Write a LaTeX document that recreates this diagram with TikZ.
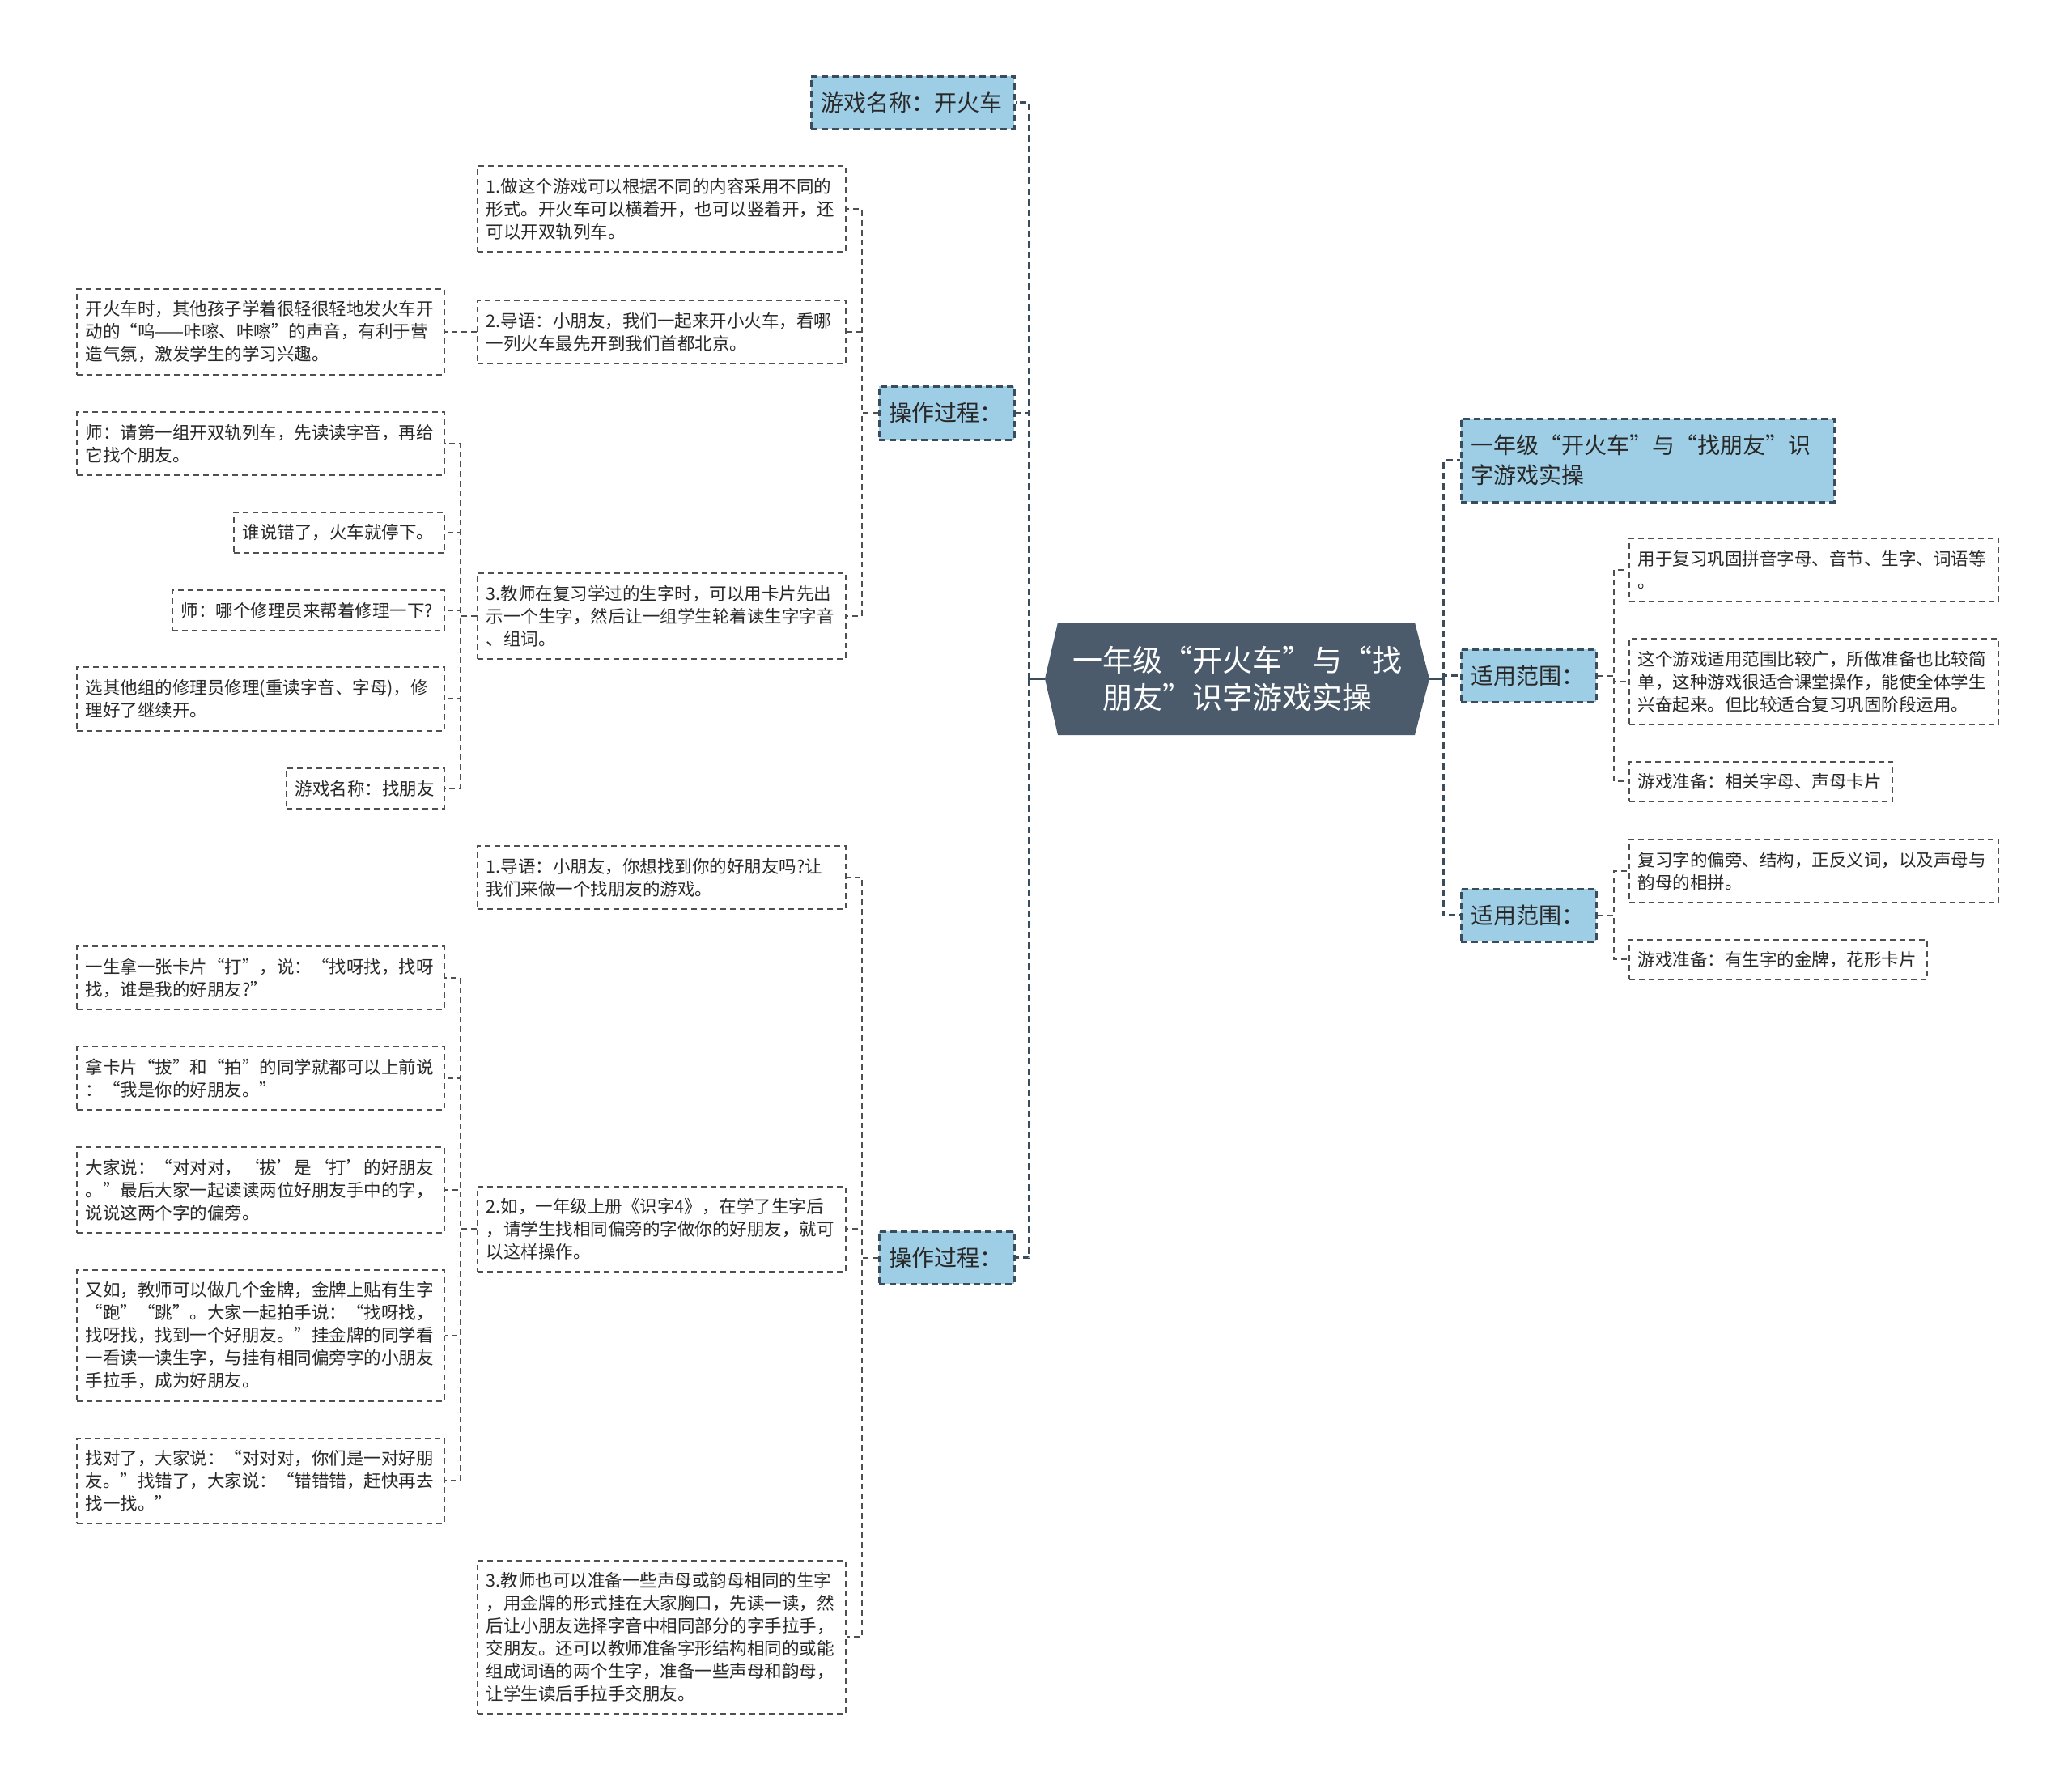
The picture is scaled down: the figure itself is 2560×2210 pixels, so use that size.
\documentclass[tikz,border=0pt]{standalone}
\usepackage{fontspec}
\setmainfont{Noto Sans CJK SC}
\definecolor{bluefill}{RGB}{158,206,229}
\definecolor{mainline}{RGB}{59,77,92}
\definecolor{leafline}{RGB}{80,80,80}
\definecolor{subline}{RGB}{80,80,80}
\definecolor{rootfill}{RGB}{75,91,107}
\definecolor{txt}{RGB}{40,40,40}
\tikzset{
  leaf/.style={draw=leafline, line width=1.9pt, dash pattern=on 7pt off 5pt, inner xsep=11pt, inner ysep=0pt, align=left, anchor=north west, text=txt, font=\fontsize{21.5}{28}\selectfont},
  bluebox/.style={fill=bluefill, draw=mainline, line width=2.6pt, dash pattern=on 8pt off 5pt, inner xsep=12.5pt, inner ysep=0pt, align=left, anchor=north west, text=txt, font=\fontsize{28}{37}\selectfont},
  mainconn/.style={draw=mainline, line width=3.2pt, dash pattern=on 8pt off 5pt},
  mainsolid/.style={draw=mainline, line width=3.2pt},
  subconn/.style={draw=subline, line width=2pt, dash pattern=on 7pt off 5pt},
}
\begin{document}
\begin{tikzpicture}[x=1pt,y=-1pt]
\useasboundingbox[fill=white] (0,0) rectangle (2560,2210);
% root
\fill[rootfill] (1291,838.5) -- (1307,769) -- (1748,769) -- (1766,838.5) -- (1748,908) -- (1307,908) -- cycle;
\node[minimum width=475pt, minimum height=139pt, inner sep=0pt, text=white, align=center, font=\fontsize{37}{46}\selectfont] (root) at (1528.5,838.5) {一年级“开火车”与“找\\朋友”识字游戏实操};
% left level 1
\node[bluebox, text width=226pt, minimum height=65pt] (g1) at (1001,93) {游戏名称：开火车};
\node[bluebox, text width=142pt, minimum height=66pt] (p1) at (1085,476) {操作过程：};
\node[bluebox, text width=142pt, minimum height=65pt] (p2) at (1085,1520) {操作过程：};
% level 2 under p1
\node[leaf, text width=433pt, minimum height=106pt] (b1) at (589,204) {1.做这个游戏可以根据不同的内容采用不同的\\形式。开火车可以横着开，也可以竖着开，还\\可以开双轨列车。};
\node[leaf, text width=433pt, minimum height=78pt] (b2) at (589,370) {2.导语：小朋友，我们一起来开小火车，看哪\\一列火车最先开到我们首都北京。};
\node[leaf, text width=433pt, minimum height=106pt] (b3) at (589,707) {3.教师在复习学过的生字时，可以用卡片先出\\示一个生字，然后让一组学生轮着读生字字音\\、组词。};
% level 2 under p2
\node[leaf, text width=433pt, minimum height=78pt] (b4) at (589,1044) {1.导语：小朋友，你想找到你的好朋友吗?让\\我们来做一个找朋友的游戏。};
\node[leaf, text width=433pt, minimum height=105pt] (b5) at (589,1465) {2.如，一年级上册《识字4》，在学了生字后\\，请学生找相同偏旁的字做你的好朋友，就可\\以这样操作。};
\node[leaf, text width=433pt, minimum height=189pt] (b6) at (589,1927) {3.教师也可以准备一些声母或韵母相同的生字\\，用金牌的形式挂在大家胸口，先读一读，然\\后让小朋友选择字音中相同部分的字手拉手，\\交朋友。还可以教师准备字形结构相同的或能\\组成词语的两个生字，准备一些声母和韵母，\\让学生读后手拉手交朋友。};
% level 3
\node[leaf, text width=432pt, minimum height=106pt] (a1) at (94,356) {开火车时，其他孩子学着很轻很轻地发火车开\\动的“呜——咔嚓、咔嚓”的声音，有利于营\\造气氛，激发学生的学习兴趣。};
\node[leaf, text width=432pt, minimum height=78pt] (a2) at (94,508) {师：请第一组开双轨列车，先读读字音，再给\\它找个朋友。};
\node[leaf, text width=238pt, minimum height=50pt] (a3) at (288,632) {谁说错了，火车就停下。};
\node[leaf, text width=314pt, minimum height=50pt] (a4) at (212,728) {师：哪个修理员来帮着修理一下?};
\node[leaf, text width=432pt, minimum height=79pt] (a5) at (94,823) {选其他组的修理员修理(重读字音、字母)，修\\理好了继续开。};
\node[leaf, text width=173pt, minimum height=50pt] (a6) at (353,948) {游戏名称：找朋友};
\node[leaf, text width=432pt, minimum height=78pt] (a7) at (94,1168) {一生拿一张卡片“打”，说：“找呀找，找呀\\找，谁是我的好朋友?”};
\node[leaf, text width=432pt, minimum height=78pt] (a8) at (94,1292) {拿卡片“拔”和“拍”的同学就都可以上前说\\：“我是你的好朋友。”};
\node[leaf, text width=432pt, minimum height=106pt] (a9) at (94,1416) {大家说：“对对对，‘拔’是‘打’的好朋友\\。”最后大家一起读读两位好朋友手中的字，\\说说这两个字的偏旁。};
\node[leaf, text width=432pt, minimum height=162pt] (a10) at (94,1568) {又如，教师可以做几个金牌，金牌上贴有生字\\“跑”“跳”。大家一起拍手说：“找呀找，\\找呀找，找到一个好朋友。”挂金牌的同学看\\一看读一读生字，与挂有相同偏旁字的小朋友\\手拉手，成为好朋友。};
\node[leaf, text width=432pt, minimum height=105pt] (a11) at (94,1776) {找对了，大家说：“对对对，你们是一对好朋\\友。”找错了，大家说：“错错错，赶快再去\\找一找。”};
% right side
\node[bluebox, text width=436pt, minimum height=103pt] (t) at (1804,516) {一年级“开火车”与“找朋友”识\\字游戏实操};
\node[bluebox, text width=142pt, minimum height=65pt] (r1) at (1804,801) {适用范围：};
\node[bluebox, text width=142pt, minimum height=65pt] (r2) at (1804,1097) {适用范围：};
\node[leaf, text width=434pt, minimum height=78pt] (c1) at (2012,664) {用于复习巩固拼音字母、音节、生字、词语等\\。};
\node[leaf, text width=434pt, minimum height=106pt] (c2) at (2012,788) {这个游戏适用范围比较广，所做准备也比较简\\单，这种游戏很适合课堂操作，能使全体学生\\兴奋起来。但比较适合复习巩固阶段运用。};
\node[leaf, text width=303pt, minimum height=49pt] (c3) at (2012,940) {游戏准备：相关字母、声母卡片};
\node[leaf, text width=434pt, minimum height=78pt] (c4) at (2012,1036) {复习字的偏旁、结构，正反义词，以及声母与\\韵母的相拼。};
\node[leaf, text width=346pt, minimum height=49pt] (c5) at (2012,1160) {游戏准备：有生字的金牌，花形卡片};
% connectors: root to level 1
\draw[mainsolid] (root.west) -- +(-19.5,0) coordinate (rl);
\draw[mainconn] (rl) |- (g1.east);
\draw[mainconn] (rl) |- (p1.east);
\draw[mainconn] (rl) |- (p2.east);
\draw[mainsolid] (root.east) -- +(17.5,0) coordinate (rr);
\draw[mainconn] (rr) |- (t.west);
\draw[mainconn] (rr) |- (r1.west);
\draw[mainconn] (rr) |- (r2.west);
% level 1 to level 2
\draw[subconn] (p1.west) -- +(-20.5,0) |- (b1.east);
\draw[subconn] (p1.west) -- +(-20.5,0) |- (b2.east);
\draw[subconn] (p1.west) -- +(-20.5,0) |- (b3.east);
\draw[subconn] (p2.west) -- +(-20.5,0) |- (b4.east);
\draw[subconn] (p2.west) -- +(-20.5,0) |- (b5.east);
\draw[subconn] (p2.west) -- +(-20.5,0) |- (b6.east);
\draw[subconn] (r1.east) -- +(20.5,0) |- (c1.west);
\draw[subconn] (r1.east) -- +(20.5,0) |- (c2.west);
\draw[subconn] (r1.east) -- +(20.5,0) |- (c3.west);
\draw[subconn] (r2.east) -- +(20.5,0) |- (c4.west);
\draw[subconn] (r2.east) -- +(20.5,0) |- (c5.west);
% level 2 to level 3
\draw[subconn] (b2.west) -- +(-20.5,0) |- (a1.east);
\draw[subconn] (b3.west) -- +(-20.5,0) |- (a2.east);
\draw[subconn] (b3.west) -- +(-20.5,0) |- (a3.east);
\draw[subconn] (b3.west) -- +(-20.5,0) |- (a4.east);
\draw[subconn] (b3.west) -- +(-20.5,0) |- (a5.east);
\draw[subconn] (b3.west) -- +(-20.5,0) |- (a6.east);
\draw[subconn] (b5.west) -- +(-20.5,0) |- (a7.east);
\draw[subconn] (b5.west) -- +(-20.5,0) |- (a8.east);
\draw[subconn] (b5.west) -- +(-20.5,0) |- (a9.east);
\draw[subconn] (b5.west) -- +(-20.5,0) |- (a10.east);
\draw[subconn] (b5.west) -- +(-20.5,0) |- (a11.east);
\end{tikzpicture}
\end{document}
